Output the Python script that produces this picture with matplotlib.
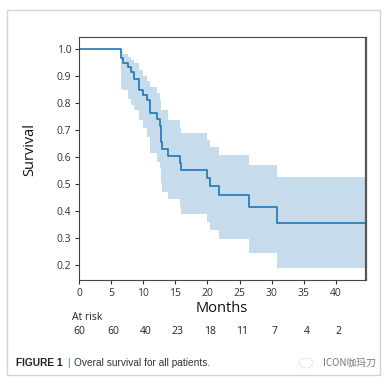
import matplotlib
matplotlib.use("Agg")
import matplotlib.pyplot as plt
import matplotlib.transforms as mtransforms
from matplotlib.patches import Rectangle, Ellipse

# ---- data ----
times = [0, 6.5, 6.9, 7.6, 8.1, 8.5, 9.4, 10.0, 10.6, 11.0, 12.2, 12.6, 12.7, 13.0,
         13.8, 15.7, 15.9, 20.0, 20.4, 21.8, 26.5, 30.9]
survival = [1.0, 0.967, 0.948, 0.933, 0.913, 0.889, 0.848, 0.827, 0.809, 0.762, 0.738,
            0.712, 0.655, 0.630, 0.603, 0.578, 0.550, 0.519, 0.491, 0.458, 0.412, 0.355]
ci_upper = [1.0, 0.99, 0.98, 0.969, 0.957, 0.947, 0.92, 0.90, 0.88, 0.858, 0.834,
            0.81, 0.772, 0.772, 0.737, 0.705, 0.686, 0.661, 0.634, 0.605, 0.569, 0.525]
ci_lower = [1.0, 0.852, 0.845, 0.815, 0.79, 0.772, 0.735, 0.705, 0.673, 0.612, 0.58,
            0.556, 0.501, 0.47, 0.442, 0.414, 0.387, 0.359, 0.328, 0.294, 0.244, 0.187]
x_end = 44.7
xticks = [0, 5, 10, 15, 20, 25, 30, 35, 40]
yticks = [0.2, 0.3, 0.4, 0.5, 0.6, 0.7, 0.8, 0.9, 1.0]
at_risk = [60, 60, 40, 23, 18, 11, 7, 4, 2]

W, H = 387, 384
fig = plt.figure(figsize=(W / 100, H / 100), dpi=100)
font = ["Open Sans", "DejaVu Sans"]

def fx(px):
    return px / W

def fy(py):
    return 1 - py / H

# outer frame
fig.patches.append(Rectangle((fx(7), fy(375)), fx(380) - fx(7), fy(10) - fy(375),
                             transform=fig.transFigure, fill=False,
                             edgecolor="#d4d4d4", lw=1.0))

ax = fig.add_axes([fx(79), fy(280), fx(366) - fx(79), fy(37) - fy(280)])

t_ext = times + [x_end]
s_ext = survival + [survival[-1]]
u_ext = ci_upper + [ci_upper[-1]]
l_ext = ci_lower + [ci_lower[-1]]

ax.fill_between(t_ext, l_ext, u_ext, step="post", color="#1f77b4", alpha=0.25,
                linewidth=0)
ax.step(t_ext, s_ext, where="post", color="#1f77b4", lw=1.2)

ax.set_xlim(0, x_end)
ax.set_ylim(0.143, 1.043)
ax.set_xticks(xticks)
ax.set_xticklabels([str(v) for v in xticks])
ax.set_yticks(yticks)
ax.set_yticklabels([f"{v:.1f}" for v in yticks])
ax.tick_params(labelsize=7.5, length=3, width=0.8, colors="#333333", pad=2.5)
for lab in ax.get_xticklabels() + ax.get_yticklabels():
    lab.set_family(font)
for side in ["left", "bottom", "top"]:
    ax.spines[side].set_color("#444444")
    ax.spines[side].set_linewidth(0.8)
ax.spines["right"].set_color("#555555")
ax.spines["right"].set_linewidth(1.6)
ax.spines["right"].set_capstyle("butt")

# axis labels
fig.text(fx(30), fy(150), "Survival", rotation=90, ha="center", va="center",
         fontsize=10.5, family=font, color="#111111")
fig.text(fx(222), fy(309), "Months", ha="center", va="center",
         fontsize=10.5, family=font, color="#111111")

# at-risk table
fig.text(fx(72), fy(317), "At risk", ha="left", va="center", fontsize=7.5,
         family=font, color="#222222")
trans = mtransforms.blended_transform_factory(ax.transData, fig.transFigure)
for xv, n in zip(xticks, at_risk):
    ax.text(xv + (0.4 if xv > 0 else 0), fy(331), str(n), transform=trans,
            ha="center", va="center", fontsize=7.5, family=font, color="#222222",
            clip_on=False)

# caption
cap_font = ["Liberation Sans", "DejaVu Sans"]
fig.text(fx(16), fy(363), "FIGURE 1", ha="left", va="center", fontsize=7.3,
         family=cap_font, weight="bold", color="#222222")
fig.text(fx(67), fy(363), "|", ha="left", va="center", fontsize=7.3,
         family=cap_font, color="#3a8fd0")
fig.text(fx(74), fy(363), "Overal survival for all patients.", ha="left",
         va="center", fontsize=7.3, family=cap_font, color="#333333")

# watermark
fig.patches.append(Ellipse((fx(306), fy(363)), fx(14), 10 / H, transform=fig.transFigure,
                           fill=False, edgecolor="#c8c8c8", lw=0.8, linestyle=":"))
fig.text(fx(323), fy(363), "ICON咖玛刀", ha="left", va="center", fontsize=7,
         family=["Noto Sans CJK SC", "DejaVu Sans"], color="#777777")

fig.savefig("out.png", dpi=100)
